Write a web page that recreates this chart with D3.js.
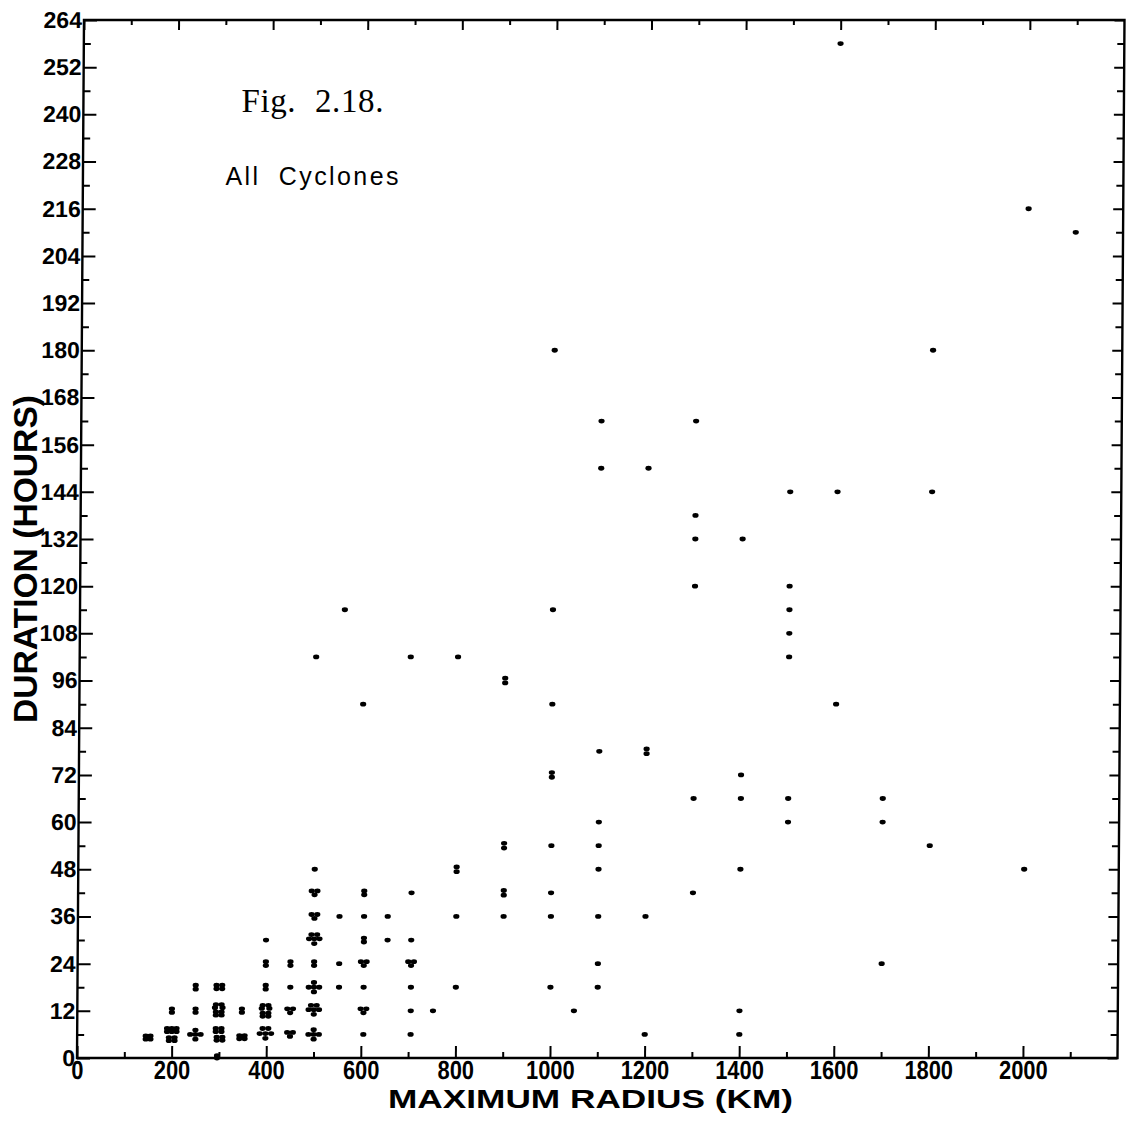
<!DOCTYPE html>
<html><head><meta charset="utf-8">
<script src="https://cdn.jsdelivr.net/npm/d3@7"></script>
<style>body{margin:0;background:#fff}svg{display:block}</style>
</head><body>
<svg id="chart" width="1126" height="1131"></svg>
<script>
// ---- Axis ticks ----
const xTickValues = [0,200,400,600,800,1000,1200,1400,1600,1800,2000];
const xMinorTicks = [100,300,500,700,900,1100,1300,1500,1700,1900,2100];
const yTickValues = [0,12,24,36,48,60,72,84,96,108,120,132,144,156,168,180,192,204,216,228,240,252,264];
const yMinorTicks = [6,18,30,42,54,66,78,90,102,114,126,138,150,162,174,186,198,210,222,234,246,258];

// ---- Data: [maximum radius (km), duration (hours)] ----
// overlapping observations are drawn slightly apart, as in the figure
const pointsUpTo350 = [
  [145,5.6],[155,5.6],[145,4.8],[155,4.8],
  [190,7.5],[200,7.5],[210,7.5],[190,6.7],[200,6.7],[210,6.7],[194,5.2],[206,5.2],[194,4.4],[206,4.4],[200,12.5],[200,11.6],
  [250,7.1],[239,6],[250,6],[261,6],[250,4.8],[250,12.5],[250,11.6],[250,18.5],[250,17.5],
  [293,7.5],[305,7.5],[293,6.7],[305,6.7],[295,5.3],[307,5.3],[295,4.5],[307,4.5],
  [293,13.6],[305,13.6],[291,12.8],[307,12.8],[293,11.7],[305,11.7],[293,10.9],[305,10.9],
  [294,18.5],[306,18.5],[294,17.6],[306,17.6],[296,0],[296,0.6],
  [343,5.7],[354,5.7],[343,4.9],[354,4.9],[348,12.5],[348,11.6]
];
const points400to500 = [
  [392,7.5],[404,7.5],[386,6.2],[398,6.2],[410,6.2],[398,5.0],
  [392,13.4],[404,13.4],[390,12.6],[406,12.6],[392,11.4],[404,11.4],[392,10.6],[404,10.6],
  [398,18.5],[398,17.5],[398,24.5],[398,23.5],[398,30],
  [444,6.5],[456,6.5],[450,5.5],[444,12.5],[456,12.5],[450,11.5],[450,18],[450,24.5],[450,23.5],
  [500,7.2],[489,6],[500,6],[511,6],[500,4.8],
  [494,13.4],[506,13.4],[489,12.3],[500,12.3],[511,12.3],[500,11.1],
  [500,19.2],[489,18],[500,18],[511,18],[500,16.8],
  [500,24.5],[500,23.5],
  [494,31.4],[506,31.4],[489,30.3],[500,30.3],[511,30.3],[500,29.1],
  [494,36.5],[506,36.5],[500,35.5],
  [494,42.5],[506,42.5],[500,41.5],
  [500,48],[500,102]
];
const points550to900 = [
  [553,18],[553,24],[553,36],[560,114],
  [605,6],[599,12.5],[611,12.5],[605,11.5],[605,18],[599,24.5],[611,24.5],[605,23.5],
  [605,30.5],[605,29.5],[605,36],[605,42.5],[605,41.5],[600,90],
  [655,30],[655,36],
  [705,6],[705,12],[705,18],[699,24.5],[711,24.5],[705,23.5],[705,30],[705,42],[700,102],
  [752,12],
  [800,18],[800,36],[800,48.6],[800,47.4],[800,102],
  [900,36],[900,42.6],[900,41.4],[900,54.6],[900,53.4],[900,96.6],[900,95.4]
];
const points1000to1400 = [
  [1000,18],[1000,36],[1000,42],[1000,54],[1000,72.6],[1000,71.4],[1000,90],[1000,114],[1000,180],
  [1050,12],
  [1100,18],[1100,24],[1100,36],[1100,48],[1100,54],[1100,60],[1100,78],[1100,150],[1100,162],
  [1200,6],[1200,36],[1200,78.6],[1200,77.4],[1200,150],
  [1300,42],[1300,66],[1300,120],[1300,132],[1300,138],[1300,162],
  [1400,6],[1400,12],[1400,48],[1400,66],[1400,72],[1400,132]
];
const points1500to2100 = [
  [1500,60],[1500,66],[1500,102],[1500,108],[1500,114],[1500,120],[1500,144],
  [1600,90],[1600,144],[1600,258],
  [1700,24],[1700,60],[1700,66],
  [1800,54],[1800,144],[1800,180],
  [2000,48],[2000,216],
  [2100,210]
];
const allPoints = [].concat(pointsUpTo350, points400to500, points550to900, points1000to1400, points1500to2100);

// ---- Layout ----
const svg = d3.select("#chart");
svg.append("rect").attr("width",1126).attr("height",1131).attr("fill","#fff");
const x = d3.scaleLinear().domain([0,2200]).range([77,1117.5]);
const y = d3.scaleLinear().domain([0,264]).range([1058,20]);

// the scanned figure is slightly sheared: top edge sits ~7px right of bottom edge
const plot = svg.append("g")
  .attr("transform", `translate(0,${y(0)}) skewX(-0.386) translate(0,${-y(0)})`);

function styleAxis(g){
  g.select(".domain").remove();
  g.selectAll(".tick line").attr("stroke","#000").attr("stroke-width",2);
}

// bottom
plot.append("g").attr("transform",`translate(0,${y(0)})`)
  .call(d3.axisBottom(x).tickValues(xMinorTicks).tickSizeInner(-6).tickSizeOuter(0).tickFormat(""))
  .call(styleAxis);
const xb = plot.append("g").attr("transform",`translate(0,${y(0)})`)
  .call(d3.axisBottom(x).tickValues(xTickValues).tickSizeInner(-12).tickSizeOuter(0).tickPadding(3).tickFormat(d3.format("d")))
  .call(styleAxis);
xb.selectAll(".tick text")
  .attr("fill","#000")
  .style("font-family","'Liberation Sans', Arial, sans-serif")
  .style("font-weight","bold").style("font-size","26px")
  .attr("transform","scale(0.84,1)");

// top
plot.append("g").attr("transform",`translate(0,${y(264)})`)
  .call(d3.axisTop(x).tickValues(xMinorTicks).tickSizeInner(-5).tickSizeOuter(0).tickFormat(""))
  .call(styleAxis);
plot.append("g").attr("transform",`translate(0,${y(264)})`)
  .call(d3.axisTop(x).tickValues(xTickValues).tickSizeInner(-10).tickSizeOuter(0).tickFormat(""))
  .call(styleAxis);

// left
plot.append("g").attr("transform",`translate(${x(0)},0)`)
  .call(d3.axisLeft(y).tickValues(yMinorTicks).tickSizeInner(-7).tickSizeOuter(0).tickFormat(""))
  .call(styleAxis);
const yl = plot.append("g").attr("transform",`translate(${x(0)},0)`)
  .call(d3.axisLeft(y).tickValues(yTickValues).tickSizeInner(-13).tickSizeOuter(0).tickPadding(2).tickFormat(d3.format("d")))
  .call(styleAxis);
yl.selectAll(".tick text")
  .attr("fill","#000")
  .style("font-family","'Liberation Sans', Arial, sans-serif")
  .style("font-weight","bold").style("font-size","23px");

// right
plot.append("g").attr("transform",`translate(${x(2200)},0)`)
  .call(d3.axisRight(y).tickValues(yMinorTicks).tickSizeInner(-7).tickSizeOuter(0).tickFormat(""))
  .call(styleAxis);
plot.append("g").attr("transform",`translate(${x(2200)},0)`)
  .call(d3.axisRight(y).tickValues(yTickValues).tickSizeInner(-10).tickSizeOuter(0).tickFormat(""))
  .call(styleAxis);

// frame
plot.append("rect")
  .attr("x",x(0)).attr("y",y(264))
  .attr("width",x(2200)-x(0)).attr("height",y(0)-y(264))
  .attr("fill","none").attr("stroke","#000").attr("stroke-width",2.4);

// points
plot.append("g").selectAll("ellipse").data(allPoints).join("ellipse")
  .attr("cx",d=>x(d[0])).attr("cy",d=>y(d[1]))
  .attr("rx",3.1).attr("ry",2.4).attr("fill","#000");

// ---- Texts ----
svg.append("text").attr("x",241.5).attr("y",112)
  .style("font-family","'Liberation Serif','Times New Roman',serif").style("font-size","33px")
  .style("letter-spacing","0.6px").style("word-spacing","10px")
  .attr("fill","#000").text("Fig. 2.18.");
svg.append("text").attr("x",225.5).attr("y",185)
  .style("font-family","'Liberation Sans', Arial, sans-serif").style("font-size","25px")
  .style("letter-spacing","2.4px").style("word-spacing","9px")
  .attr("fill","#000").text("All Cyclones");

svg.append("text").attr("x",590.5).attr("y",1108)
  .attr("text-anchor","middle")
  .attr("textLength",405).attr("lengthAdjust","spacingAndGlyphs")
  .style("font-family","'Liberation Sans', Arial, sans-serif").style("font-weight","bold").style("font-size","26px")
  .attr("fill","#000").text("MAXIMUM RADIUS (KM)");
svg.append("text").attr("transform","translate(37,559) rotate(-90)")
  .attr("text-anchor","middle")
  .attr("textLength",328).attr("lengthAdjust","spacingAndGlyphs")
  .style("font-family","'Liberation Sans', Arial, sans-serif").style("font-weight","bold").style("font-size","33px")
  .attr("fill","#000").text("DURATION (HOURS)");
</script>
</body></html>
